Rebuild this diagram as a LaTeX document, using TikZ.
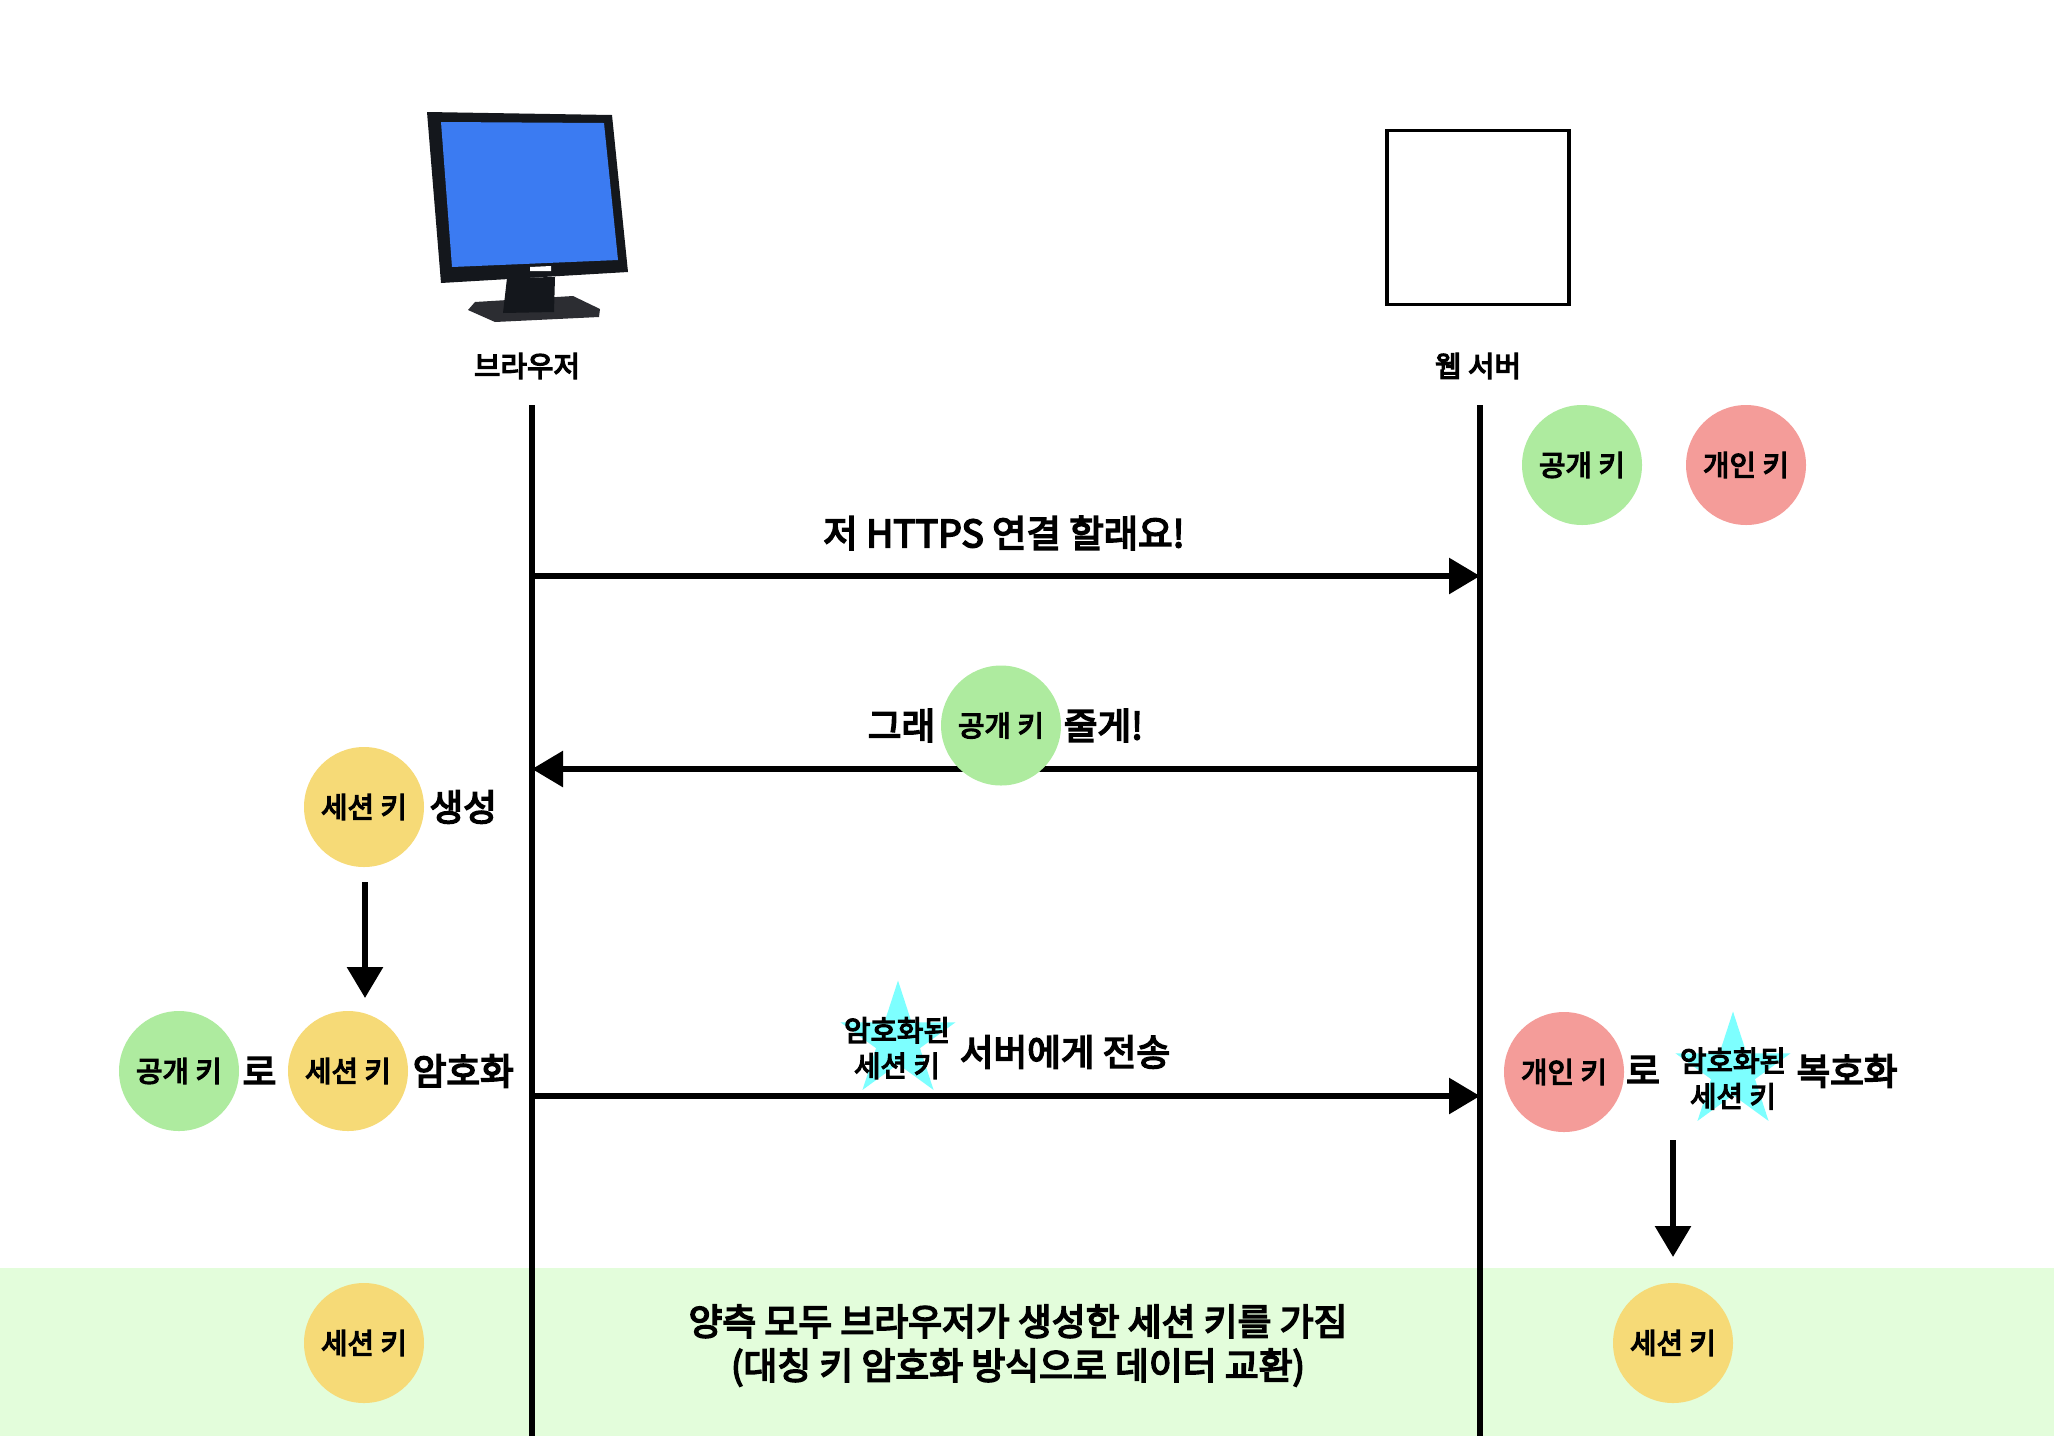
\documentclass[tikz,border=0pt]{standalone}
\usepackage{fontspec}
\setmainfont{Noto Sans CJK KR}[FakeBold=4.5]
\usepackage{tikz}
\usetikzlibrary{arrows.meta, positioning, shapes.geometric}
\definecolor{KeyGreen}{RGB}{174, 235, 159}
\definecolor{KeyRed}{RGB}{244, 156, 153}
\definecolor{KeyYellow}{RGB}{246, 218, 119}
\definecolor{BandGreen}{RGB}{227, 253, 219}
\definecolor{StarCyan}{RGB}{125, 255, 255}
\definecolor{ScreenBlue}{RGB}{59, 123, 242}
\definecolor{FrameBlack}{RGB}{20, 23, 28}
\definecolor{BaseGray}{RGB}{44, 45, 50}

\begin{document}
\begin{tikzpicture}[
		x=0.5pt, y=-0.5pt,
		node distance=3pt,
		keyBase/.style={
			circle, draw=none, inner sep=0pt, minimum size=60pt,
			font=\fontsize{14.4}{17}\selectfont
		},
		greenKey/.style={keyBase, fill=KeyGreen},
		redKey/.style={keyBase, fill=KeyRed},
		yellowKey/.style={keyBase, fill=KeyYellow},
		sideText/.style={inner sep=0pt, font=\fontsize{18.3}{22}\selectfont},
		smallText/.style={inner sep=0pt, align=center, font=\fontsize{14.4}{17.8}\selectfont},
		keyStar/.style={star, star points=5, star point ratio=2.618, draw=none, fill=StarCyan, inner sep=0pt, minimum size=60.5pt},
		lifeLine/.style={line width=2.6pt, black},
		arrow/.style={-{Triangle[length=15.5pt, width=17.5pt]}, line width=3pt, black}
		]
		\useasboundingbox (0,0) rectangle (2054,1436);
		
		% bottom band
		\fill[BandGreen] (0,1268) rectangle (2054,1436);
		
		% monitor
		\fill[FrameBlack] (427,112) -- (612,115) -- (628,272) -- (441,283) -- cycle;
		\fill[ScreenBlue] (441,122) -- (604,123) -- (618,260) -- (452,267) -- cycle;
		\fill[white] (530,267) -- (551,266) -- (551,271) -- (530,271) -- cycle;
		\fill[BaseGray] (468,310) -- (475,302) -- (573,296) -- (600,309) -- (599,317) -- (495,322) -- cycle;
		\fill[FrameBlack] (507,278) -- (555,277) -- (554,312) -- (503,313) -- cycle;
		
		% server box
		\node[draw, line width=1.7pt, minimum width=91pt, minimum height=87pt, inner sep=0pt] (serverBox) at (1478,217.5) {};
		
		\node[smallText] (browserLabel) at (527,366) {브라우저};
		\node[smallText] (serverLabel) at (1478,366) {웹 서버};
		
		% lifelines
		\coordinate (browserTop) at (532,405);
		\coordinate (browserBottom) at (532,1436);
		\coordinate (serverTop) at (1480,405);
		\coordinate (serverBottom) at (1480,1436);
		\draw[lifeLine] (browserTop) -- (browserBottom);
		\draw[lifeLine] (serverTop) -- (serverBottom);
		
		\node[greenKey] (serverPublic) at (1582,465) {공개 키};
		\node[redKey] (serverPrivate) at (1746,465) {개인 키};
		
		% step 1
		\coordinate (helloFrom) at (532,576);
		\coordinate (helloTo) at (1480,576);
		\draw[arrow] (helloFrom) -- (helloTo);
		\node[sideText, font=\fontsize{18.7}{22}\selectfont] (helloText) at (1004,533) {저 HTTPS 연결 할래요!};
		
		% step 2
		\coordinate (replyFrom) at (1480,769);
		\coordinate (replyTo) at (532,769);
		\draw[arrow] (replyFrom) -- (replyTo);
		\node[greenKey] (replyKey) at (1001,725.5) {공개 키};
		\node[sideText, left=2.5pt of replyKey] (replyLeft) {그래};
		\node[sideText, right=1pt of replyKey] (replyRight) {줄게!};
		
		% browser side
		\node[yellowKey] (sessionNew) at (364,807) {세션 키};
		\node[sideText, right=2.4pt of sessionNew] (sessionNewText) {생성};
		\coordinate (downFrom) at (365,882);
		\coordinate (downTo) at (365,998);
		\draw[arrow] (downFrom) -- (downTo);
		\node[greenKey] (browserPublic) at (179,1071) {공개 키};
		\node[sideText, right=1.4pt of browserPublic] (browserWith) {로};
		\node[yellowKey] (sessionPlain) at (348,1071) {세션 키};
		\node[sideText, right=2pt of sessionPlain] (browserEncrypt) {암호화};
		
		% step 3
		\coordinate (sendFrom) at (532,1096);
		\coordinate (sendTo) at (1480,1096);
		\draw[arrow] (sendFrom) -- (sendTo);
		\node[keyStar] (sendStar) at (898,1041) {};
		\node[smallText] (sendStarText) at (897,1048) {암호화된\\세션 키};
		\node[sideText] (sendText) at (1065,1052) {서버에게 전송};
		
		% server side
		\node[redKey] (decryptKey) at (1564,1072) {개인 키};
		\node[sideText] (decryptWith) at (1643,1070) {로};
		\node[keyStar] (decryptStar) at (1733,1072) {};
		\node[smallText] (decryptStarText) at (1733,1078.5) {암호화된\\세션 키};
		\node[sideText] (decryptText) at (1847,1071) {복호화};
		\coordinate (serverDownFrom) at (1673,1140);
		\coordinate (serverDownTo) at (1673,1257);
		\draw[arrow] (serverDownFrom) -- (serverDownTo);
		
		% result
		\node[yellowKey] (sessionBrowser) at (364,1343) {세션 키};
		\node[yellowKey] (sessionServer) at (1673,1343) {세션 키};
		\node[sideText, align=center, font=\fontsize{18.4}{22}\selectfont] (resultText) at (1018,1345.5) {양측 모두 브라우저가 생성한 세션 키를 가짐\\(대칭 키 암호화 방식으로 데이터 교환)};
	\end{tikzpicture}
\end{document}
